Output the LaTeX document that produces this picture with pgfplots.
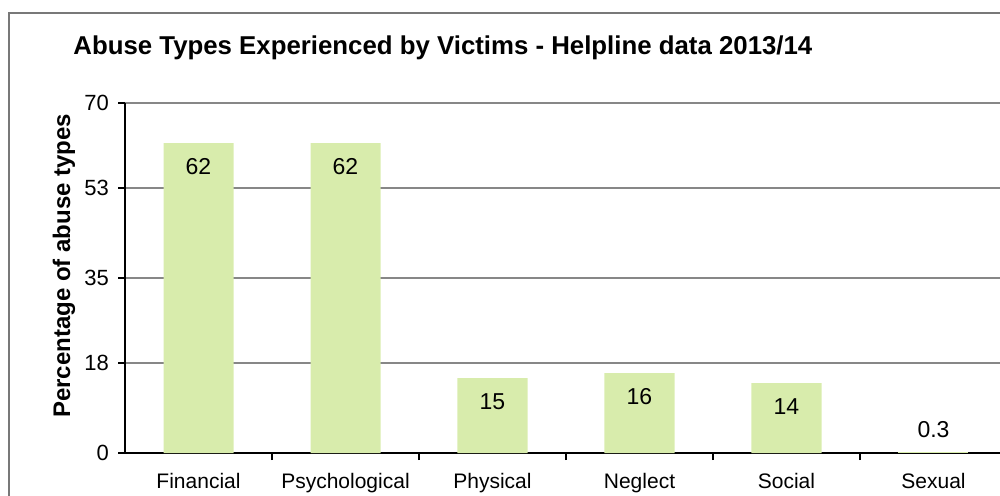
\documentclass[border=0pt]{standalone}
\usepackage{pgfplots}
\pgfplotsset{compat=1.18}
\usepackage{fontspec}
\setmainfont{Liberation Sans}

\definecolor{barfill}{RGB}{216,236,172}
\definecolor{gridgrey}{RGB}{135,135,135}
\definecolor{framegrey}{RGB}{120,120,120}

\begin{document}
\begin{tikzpicture}
% page: 500pt x 247.5pt, origin at the top left corner
\useasboundingbox (0,0) rectangle (500pt,-247.5pt);
\clip (0,0) rectangle (500pt,-247.5pt);

% outer chart frame
\draw[framegrey, line width=0.8pt] (504pt,-6.5pt) -- (4.5pt,-6.5pt) -- (4.5pt,-252pt);

% title
\node[anchor=base west, inner sep=0pt, font=\fontsize{12.9}{15}\selectfont\bfseries]
  at (36.5pt,-27pt) {Abuse Types Experienced by Victims - Helpline data 2013/14};

\begin{axis}[
  at={(62.5pt,-226.5pt)}, anchor=south west,
  scale only axis, width=441pt, height=175pt,
  xmin=-0.5, xmax=5.5, ymin=0, ymax=70,
  axis x line*=bottom, axis y line*=left,
  axis line style={black, line width=0.7pt},
  ytick={0,18,35,53,70},
  ymajorgrids, grid style={gridgrey, line width=0.6pt},
  tick align=outside,
  major tick length=3.5pt,
  tick style={black, line width=0.7pt},
  xtick={0.5,1.5,2.5,3.5,4.5},
  xticklabels={},
  extra x ticks={0,1,2,3,4,5},
  extra x tick labels={Financial,Psychological,Physical,Neglect,Social,Sexual},
  extra x tick style={major tick length=0pt, grid=none,
    xticklabel style={yshift=-6.5pt}},
  xticklabel style={font=\fontsize{10.5}{12}\selectfont, anchor=north},
  yticklabel style={font=\fontsize{11}{13}\selectfont, xshift=-1pt},
  /pgf/number format/assume math mode=true,
  ylabel={Percentage of abuse types},
  every axis y label/.style={at={(axis description cs:0,0.535)}, xshift=-30.5pt,
    rotate=90, anchor=center, font=\fontsize{12}{14}\selectfont\bfseries},
  ybar, bar width=35pt,
  nodes near coords,
  every node near coord/.append style={font=\fontsize{11.5}{13}\selectfont, anchor=center},
  clip=false,
]
\addplot[fill=barfill, draw=none, bar shift=0pt,
  every node near coord/.append style={yshift=-12pt}]
  coordinates {(0,62) (1,62) (2,15) (3,16) (4,14)};
\addplot[fill=barfill, draw=none, bar shift=0pt,
  every node near coord/.append style={yshift=11pt}]
  coordinates {(5,0.3)};
\end{axis}
\end{tikzpicture}
\end{document}
